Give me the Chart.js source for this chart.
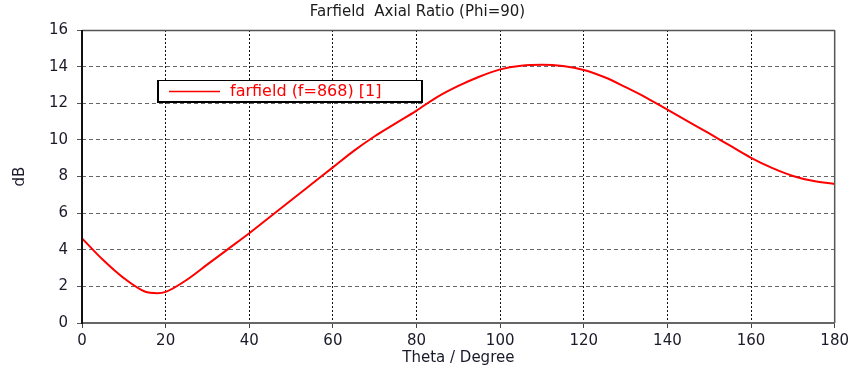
<!DOCTYPE html>
<html>
<head>
<meta charset="utf-8">
<script src="https://cdn.jsdelivr.net/npm/chart.js@4"></script>
<style>
html,body{margin:0;padding:0;background:#fff;}
#wrap{width:853px;height:370px;}
</style>
</head>
<body>
<div id="wrap"><canvas id="c" width="853" height="370"></canvas></div>
<script>
const titleText = "Farfield  Axial Ratio (Phi=90)";
const xTitle = "Theta / Degree";
const yTitle = "dB";
const seriesLabel = "farfield (f=868) [1]";
const theta = [0,5,10,15,18,20,25,30,35,40,45,50,55,60,65,70,75,80,85,90,95,100,105,110,115,120,125,130,135,140,145,150,155,160,165,170,175,180];
const axialRatio = [4.62,3.45,2.45,1.72,1.63,1.70,2.35,3.2,4.05,4.9,5.8,6.7,7.6,8.5,9.4,10.2,10.9,11.6,12.35,12.95,13.45,13.85,14.05,14.1,14.03,13.82,13.42,12.88,12.3,11.65,11.0,10.35,9.68,9.02,8.47,8.03,7.75,7.59];
const xTicks = [0,20,40,60,80,100,120,140,160,180];
const yTicks = [0,2,4,6,8,10,12,14,16];

const FONT = "'DejaVu Sans', Verdana, sans-serif";

const framePlugin = {
  id: 'frame',
  afterDraw(chart) {
    const {ctx, chartArea: a} = chart;
    ctx.save();
    ctx.setLineDash([]);
    ctx.strokeStyle = '#555';
    ctx.lineWidth = 1.5;
    ctx.beginPath();
    ctx.moveTo(a.left, a.top + 0.5);
    ctx.lineTo(a.right, a.top + 0.5);
    ctx.moveTo(a.right, a.top);
    ctx.lineTo(a.right, a.bottom);
    ctx.stroke();
    ctx.lineWidth = 2;
    ctx.strokeStyle = '#666';
    ctx.beginPath();
    ctx.moveTo(a.left, a.bottom);
    ctx.lineTo(a.right, a.bottom);
    ctx.stroke();
    ctx.strokeStyle = '#111';
    ctx.beginPath();
    ctx.moveTo(a.left, a.top);
    ctx.lineTo(a.left, a.bottom + 1);
    ctx.stroke();

    // legend box
    const ds = chart.data.datasets[0];
    const bx = 157, by = 80, bw = 266, bh = 23;
    ctx.fillStyle = '#fff';
    ctx.fillRect(bx, by, bw, bh);
    ctx.strokeStyle = '#000';
    ctx.lineWidth = 1;
    ctx.strokeRect(bx + 0.5, by + 0.5, bw - 1, bh - 1);
    ctx.lineWidth = 2;
    ctx.beginPath();
    ctx.moveTo(bx + 1, by);
    ctx.lineTo(bx + 1, by + bh - 1);
    ctx.lineTo(bx + bw, by + bh - 1);
    ctx.moveTo(bx + bw - 1, by);
    ctx.lineTo(bx + bw - 1, by + bh);
    ctx.stroke();
    ctx.strokeStyle = ds.borderColor;
    ctx.lineWidth = 1.5;
    ctx.beginPath();
    ctx.moveTo(169, by + 11.5);
    ctx.lineTo(220, by + 11.5);
    ctx.stroke();
    ctx.fillStyle = ds.borderColor;
    ctx.font = "16px " + FONT;
    ctx.textBaseline = 'middle';
    ctx.textAlign = 'left';
    ctx.fillText(ds.label, 230, by + 12);
    ctx.restore();
  }
};

new Chart(document.getElementById('c'), {
  type: 'line',
  data: {
    datasets: [{
      label: seriesLabel,
      data: theta.map((t, i) => ({x: t, y: axialRatio[i]})),
      borderColor: '#ff0000',
      borderWidth: 2,
      pointRadius: 0,
      cubicInterpolationMode: 'monotone',
      fill: false
    }]
  },
  options: {
    responsive: false,
    animation: false,
    devicePixelRatio: 1,
    layout: {padding: {left: 0, right: 18, top: 0, bottom: 0}},
    plugins: {
      legend: {display: false},
      tooltip: {enabled: false},
      title: {
        display: true,
        text: titleText,
        color: '#1a1a1a',
        font: {family: FONT, size: 15, weight: 'normal'},
        padding: {top: 3, bottom: 9}
      }
    },
    scales: {
      x: {
        type: 'linear',
        min: 0, max: 180,
        afterBuildTicks(scale) { scale.ticks = xTicks.map(v => ({value: v})); },
        afterFit(scale) { scale.height = 47; },
        ticks: {
          color: '#1a1a2a',
          font: {family: FONT, size: 15},
          padding: 4,
          maxRotation: 0,
          autoSkip: false
        },
        grid: {
          color: '#111',
          lineWidth: 1,
          tickLength: 5,
          tickColor: '#444',
          tickBorderDash: []
        },
        border: {display: false, dash: [2, 2]},
        title: {
          display: true,
          text: xTitle,
          color: '#1a1a2a',
          font: {family: FONT, size: 15},
          padding: {top: 0, bottom: 3}
        }
      },
      y: {
        type: 'linear',
        min: 0, max: 16,
        afterBuildTicks(scale) { scale.ticks = yTicks.map(v => ({value: v})); },
        afterFit(scale) { scale.width = 82; },
        ticks: {
          color: '#1a1a2a',
          font: {family: FONT, size: 15},
          padding: 9,
          autoSkip: false
        },
        grid: {
          color: '#666',
          lineWidth: 1,
          tickLength: 5,
          tickColor: '#555',
          tickBorderDash: []
        },
        border: {display: false, dash: [4, 3]},
        title: {
          display: true,
          text: yTitle,
          color: '#1a1a2a',
          font: {family: FONT, size: 15},
          padding: {top: 11, bottom: 0}
        }
      }
    }
  },
  plugins: [framePlugin]
});
</script>
</body>
</html>
